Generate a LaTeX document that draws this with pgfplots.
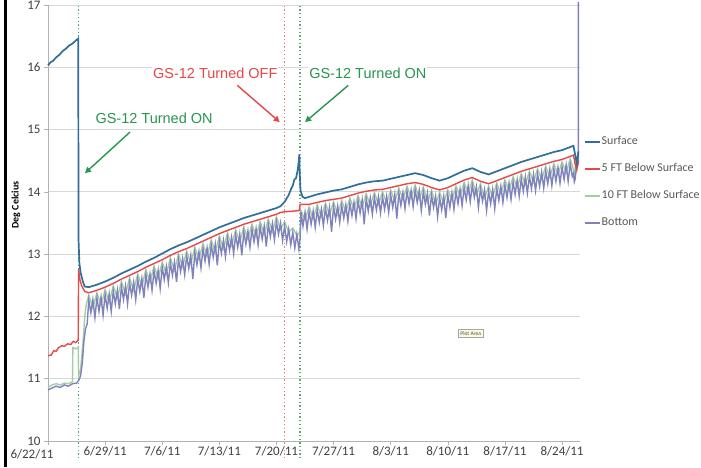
\documentclass[border=0pt]{standalone}
\usepackage{pgfplots}
\pgfplotsset{compat=1.18}
\usetikzlibrary{arrows.meta}
\usepackage{fontspec}
\setmainfont{Carlito}
\newfontfamily\arialf{Liberation Sans}
\definecolor{surfc}{RGB}{48,110,155}
\definecolor{fiveft}{RGB}{232,72,72}
\definecolor{tenft}{RGB}{165,205,165}
\definecolor{bott}{RGB}{128,130,188}
\definecolor{gridc}{RGB}{215,215,215}
\definecolor{ongreen}{RGB}{40,150,80}
\definecolor{offred}{RGB}{235,70,70}
\definecolor{tipfill}{RGB}{252,250,225}
\definecolor{evgreena}{RGB}{70,160,130}
\definecolor{evred}{RGB}{240,120,120}
\definecolor{evgreenb}{RGB}{90,170,120}
\begin{document}
\begin{tikzpicture}[x=1pt,y=1pt]
\fill[white] (0,0) rectangle (701,467);
\draw[black, line width=2.5pt] (5.5,0) -- (5.5,467);
\begin{axis}[
 at={(48pt,26pt)}, anchor=south west, scale only axis, width=532pt, height=436pt,
 xmin=0, xmax=65.2, ymin=10, ymax=17,
 clip=false,
 axis x line*=bottom, axis y line*=left,
 axis line style={draw=black!30, line width=0.8pt},
 xtick={0,7,...,63},
 xticklabels={,6/29/11,7/6/11,7/13/11,7/20/11,7/27/11,8/3/11,8/10/11,8/17/11,8/24/11},
 ytick={10,...,17},
 ymajorgrids, grid style={gridc, line width=0.8pt},
 tick align=outside, major tick length=4pt,
 tick style={black!30, line width=0.6pt},
 /pgf/number format/assume math mode=true,
 ticklabel style={font=\fontsize{13}{15}\selectfont, text=black!75},
 xticklabel style={yshift=2pt},
 legend style={at={(rel axis cs:1,0.593)}, anchor=west, xshift=1pt, draw=none, fill=none,
   font=\fontsize{12}{14}\selectfont\color{black!65}, row sep=15pt,
   nodes={inner sep=1pt, text height=8pt, text depth=2pt}},
 legend cell align=left,
 legend image code/.code={\draw[#1] (0pt,0pt) -- (15pt,0pt);},
]
\addlegendimage{surfc, line width=1.5pt}
\addlegendentry{Surface}
\addlegendimage{fiveft, line width=1.5pt}
\addlegendentry{5 FT Below Surface}
\addlegendimage{tenft, line width=1.5pt}
\addlegendentry{10 FT Below Surface}
\addlegendimage{bott, line width=1.5pt}
\addlegendentry{Bottom}
% event lines
\addplot[forget plot, draw=evgreena, line width=1.3pt, dash pattern=on 1.3pt off 2.4pt] coordinates {(3.72,9.72) (3.72,17)};
\addplot[forget plot, draw=evred, line width=1.3pt, dash pattern=on 1.3pt off 2.4pt] coordinates {(28.95,9.72) (28.95,17)};
\addplot[forget plot, draw=evgreenb, line width=1.3pt, dash pattern=on 1.3pt off 2.4pt] coordinates {(30.9,9.72) (30.9,17)};
% 10 FT below surface
\addplot[forget plot, tenft, line width=1.4pt] coordinates {
(0,10.86)(0.5,10.9)(1,10.92)(1.5,10.9)(2,10.93)(2.5,10.92)(3,10.95)(3.05,11.5)(3.4,11.48)(3.7,11.5)(3.75,11.05)(4,11.15)(4.3,11.6)(4.5,12.0)(4.7,12.2)
(5,12.34)(5.5,12.14)(6,12.38)(6.5,12.18)(7,12.43)(7.5,12.23)(8,12.49)(8.5,12.3)(9,12.56)(9.5,12.36)(10,12.62)(10.5,12.42)(11,12.68)(11.5,12.48)(12,12.75)(12.5,12.55)
(13,12.81)(13.5,12.61)(14,12.87)(14.5,12.68)(15,12.94)(15.5,12.74)(16,13.0)(16.5,12.8)(17,13.05)(17.5,12.85)(18,13.11)(18.5,12.92)(19,13.17)(19.5,12.97)(20,13.23)(20.5,13.03)
(21,13.29)(21.5,13.09)(22,13.34)(22.5,13.14)(23,13.39)(23.5,13.19)(24,13.44)(24.5,13.24)(25,13.48)(25.5,13.28)(26,13.52)(26.5,13.32)(27,13.56)(27.5,13.36)(28,13.6)(28.5,13.4)
(29,13.52)(29.5,13.35)(30,13.42)(30.5,13.3)(30.9,13.35)(31,13.7)(31.5,13.55)(32,13.76)(32.5,13.57)(33,13.79)(33.5,13.6)(34,13.82)(34.5,13.63)(35,13.84)(35.5,13.64)(36,13.86)
(36.5,13.68)(37,13.9)(37.5,13.72)(38,13.94)(38.5,13.75)(39,13.97)(39.5,13.78)(40,13.99)(40.5,13.8)(41,14.0)(41.5,13.82)(42,14.03)(42.5,13.85)(43,14.06)(43.5,13.88)(44,14.09)
(44.5,13.9)(45,14.11)(45.5,13.88)(46,14.08)(46.5,13.83)(47,14.03)(47.5,13.8)(48,13.99)(48.5,13.82)(49,14.03)(49.5,13.87)(50,14.09)(50.5,13.93)(51,14.15)(51.5,13.98)(52,14.19)
(52.5,13.95)(53,14.13)(53.5,13.9)(54,14.09)(54.5,13.92)(55,14.14)(55.5,13.97)(56,14.19)(56.5,14.02)(57,14.24)(57.5,14.07)(58,14.29)(58.5,14.12)(59,14.33)(59.5,14.16)(60,14.37)
(60.5,14.2)(61,14.41)(61.5,14.24)(62,14.45)(62.5,14.28)(63,14.48)(63.5,14.31)(64,14.53)(64.3,14.4)(64.5,14.3)(64.7,14.45)(65,14.48)
};
% Bottom
\addplot[forget plot, bott, line width=1.4pt] table {
0 10.82
0.5 10.85
1 10.88
1.5 10.86
2 10.9
2.5 10.88
3 10.92
3.5 10.93
3.8 10.98
4.0 11.05
4.2 11.25
4.4 11.6
4.6 11.8
4.8 11.88
5 12.26
5.25 12.06
5.5 12.27
5.75 11.98
6 12.30
6.25 12.08
6.5 12.31
6.75 12.02
7 12.35
7.25 12.13
7.5 12.36
7.75 12.08
8 12.41
8.25 12.2
8.5 12.42
8.75 12.12
9 12.48
9.25 12.27
9.5 12.49
9.75 12.2
10 12.54
10.25 12.34
10.5 12.55
10.75 12.27
11 12.6
11.25 12.4
11.5 12.61
11.75 12.3
12 12.67
12.25 12.47
12.5 12.68
12.75 12.42
13 12.73
13.25 12.53
13.5 12.74
13.75 12.45
14 12.79
14.25 12.59
14.5 12.8
14.75 12.54
15 12.86
15.25 12.66
15.5 12.87
15.75 12.55
16 12.92
16.25 12.72
16.5 12.93
16.75 12.67
17 12.97
17.25 12.77
17.5 12.98
17.75 12.6
18 13.03
18.25 12.83
18.5 13.04
18.75 12.78
19 13.09
19.25 12.89
19.5 13.1
19.75 12.84
20 13.15
20.25 12.95
20.5 13.16
20.75 12.82
21 13.21
21.25 13.01
21.5 13.22
21.75 12.96
22 13.26
22.25 13.06
22.5 13.27
22.75 13.01
23 13.31
23.25 13.11
23.5 13.32
23.75 12.98
24 13.36
24.25 13.16
24.5 13.37
24.75 13.11
25 13.4
25.25 13.2
25.5 13.41
25.75 13.15
26 13.44
26.25 13.24
26.5 13.45
26.75 13.12
27 13.48
27.25 13.28
27.5 13.49
27.75 13.23
28 13.52
28.25 13.32
28.5 13.5
28.75 13.22
29 13.45
29.25 13.2
29.5 13.4
29.75 13.15
30 13.35
30.25 13.1
30.5 13.32
30.75 13.08
30.9 13.25
31 13.68
31.25 13.45
31.5 13.67
31.75 13.4
32 13.68
32.25 13.48
32.5 13.69
32.75 13.43
33 13.71
33.25 13.51
33.5 13.72
33.75 13.46
34 13.74
34.25 13.54
34.5 13.75
34.75 13.36
35 13.76
35.25 13.56
35.5 13.77
35.75 13.51
36 13.78
36.25 13.58
36.5 13.79
36.75 13.53
37 13.82
37.25 13.62
37.5 13.83
37.75 13.57
38 13.86
38.25 13.66
38.5 13.87
38.75 13.48
39 13.89
39.25 13.69
39.5 13.9
39.75 13.64
40 13.91
40.25 13.71
40.5 13.92
40.75 13.66
41 13.92
41.25 13.72
41.5 13.93
41.75 13.67
42 13.95
42.25 13.75
42.5 13.96
42.75 13.57
43 13.98
43.25 13.78
43.5 13.99
43.75 13.73
44 14.01
44.25 13.81
44.5 14.02
44.75 13.76
45 14.03
45.25 13.83
45.5 14.02
45.75 13.7
46 14.0
46.25 13.8
46.5 13.98
46.75 13.62
47 13.95
47.25 13.75
47.5 13.93
47.75 13.6
48 13.91
48.25 13.71
48.5 13.93
48.75 13.58
49 13.95
49.25 13.75
49.5 13.98
49.75 13.72
50 14.01
50.25 13.81
50.5 14.04
50.75 13.78
51 14.07
51.25 13.87
51.5 14.1
51.75 13.84
52 14.11
52.25 13.91
52.5 14.08
52.75 13.75
53 14.05
53.25 13.85
53.5 14.03
53.75 13.7
54 14.01
54.25 13.81
54.5 14.04
54.75 13.73
55 14.06
55.25 13.86
55.5 14.09
55.75 13.83
56 14.11
56.25 13.91
56.5 14.14
56.75 13.88
57 14.16
57.25 13.96
57.5 14.19
57.75 13.93
58 14.21
58.25 14.01
58.5 14.24
58.75 13.98
59 14.25
59.25 14.05
59.5 14.28
59.75 14.02
60 14.29
60.25 14.09
60.5 14.32
60.75 14.06
61 14.33
61.25 14.13
61.5 14.36
61.75 14.1
62 14.37
62.25 14.17
62.5 14.39
62.75 14.14
63 14.4
63.25 14.2
63.5 14.43
63.75 14.17
64 14.45
64.25 14.25
64.4 14.3
64.5 14.16
64.6 14.2
64.75 14.4
65 14.45
65 17.05
};
% 5 FT below surface
\addplot[forget plot, fiveft, line width=1.4pt] coordinates {
(0,11.37)(0.4,11.38)(0.7,11.45)(1.0,11.44)(1.3,11.5)(1.7,11.53)(2.0,11.52)(2.4,11.56)(2.8,11.55)(3.1,11.6)(3.4,11.58)(3.7,11.62)(3.75,12.75)(3.9,12.6)(4.1,12.5)(4.5,12.4)
(5,12.38)(6,12.42)(7,12.47)(8,12.53)(9,12.6)(10,12.66)(11,12.72)(12,12.79)(13,12.85)(14,12.91)(15,12.98)(16,13.04)(17,13.09)(18,13.15)(19,13.21)(20,13.27)
(21,13.33)(22,13.38)(23,13.43)(24,13.48)(25,13.52)(26,13.56)(27,13.6)(28,13.64)(28.5,13.67)(29,13.68)(30,13.69)(30.8,13.7)(30.9,13.8)(31.5,13.8)(32,13.8)
(33,13.83)(34,13.86)(35,13.88)(36,13.9)(37,13.94)(38,13.98)(39,14.01)(40,14.03)(41,14.04)(42,14.07)(43,14.1)(44,14.13)(45,14.15)(46,14.12)(47,14.07)(48,14.03)
(49,14.07)(50,14.13)(51,14.19)(52,14.23)(53,14.17)(54,14.13)(55,14.18)(56,14.23)(57,14.28)(58,14.33)(59,14.37)(60,14.41)(61,14.45)(62,14.49)(63,14.52)(64,14.57)
(64.4,14.59)(64.6,14.45)(64.8,14.35)(65,14.5)
};
% Surface
\addplot[forget plot, surfc, line width=1.7pt] coordinates {
(0,16.03)(0.3,16.08)(0.6,16.1)(1.0,16.16)(1.4,16.2)(1.8,16.26)(2.2,16.3)(2.6,16.35)(3.0,16.38)(3.4,16.43)(3.7,16.46)(3.75,13.2)(3.85,12.85)(4.0,12.7)(4.3,12.55)(4.5,12.48)
(5,12.47)(6,12.51)(7,12.56)(8,12.62)(9,12.69)(10,12.75)(11,12.81)(12,12.88)(13,12.94)(14,13.01)(15,13.08)(16,13.14)(17,13.19)(18,13.25)(19,13.31)(20,13.37)
(21,13.43)(22,13.48)(23,13.53)(24,13.58)(25,13.62)(26,13.66)(27,13.7)(28,13.74)(28.5,13.77)(29,13.84)(29.5,13.95)(29.8,14.05)(30,14.1)(30.2,14.2)(30.4,14.22)
(30.6,14.35)(30.7,14.45)(30.8,14.6)(30.85,14.3)(30.95,14.02)(31.2,13.92)(31.5,13.9)(32,13.92)(33,13.96)(34,13.99)(35,14.02)(36,14.04)(37,14.08)(38,14.12)(39,14.15)(40,14.17)
(41,14.18)(42,14.21)(43,14.24)(44,14.27)(45,14.3)(46,14.27)(47,14.22)(48,14.18)(49,14.22)(50,14.28)(51,14.34)(52,14.38)(53,14.32)(54,14.28)(55,14.33)(56,14.38)
(57,14.43)(58,14.48)(59,14.52)(60,14.56)(61,14.6)(62,14.64)(63,14.67)(64,14.72)(64.4,14.74)(64.6,14.6)(64.8,14.45)(65,14.65)
};
% annotations
\node[font=\arialf\fontsize{14.5}{16}\selectfont, text=ongreen, fill=white, inner sep=1pt] at (axis cs:13.0,15.18) {GS-12 Turned ON};
\draw[-{Triangle[length=6pt,width=6pt]}, ongreen, line width=1.4pt] (axis cs:10.05,14.96) -- (axis cs:4.53,14.30);
\node[font=\arialf\fontsize{14.5}{16}\selectfont, text=offred, fill=white, inner sep=1pt] at (axis cs:20.5,15.91) {GS-12 Turned OFF};
\draw[-{Triangle[length=6pt,width=6pt]}, offred, line width=1.4pt] (axis cs:23.2,15.71) -- (axis cs:28.4,15.12);
\node[font=\arialf\fontsize{14.5}{16}\selectfont, text=ongreen, fill=white, inner sep=1pt] at (axis cs:39.2,15.91) {GS-12 Turned ON};
\draw[-{Triangle[length=6pt,width=6pt]}, ongreen, line width=1.4pt] (axis cs:36.8,15.71) -- (axis cs:31.5,15.12);
\node[draw=black!35, fill=tipfill, font=\fontsize{5.5}{6}\selectfont, text=black!70, inner sep=2pt] at (axis cs:51.8,11.73) {Plot Area};
\end{axis}
\node[anchor=north west, font=\fontsize{13}{15}\selectfont, text=black!75] at (7,21) {6/22/11};
\node[rotate=90, font=\bfseries\fontsize{10}{11}\selectfont] at (16,262) {Deg Celcius};
\pgfresetboundingbox
\path[use as bounding box] (0,0) rectangle (701,467);
\end{tikzpicture}
\end{document}
